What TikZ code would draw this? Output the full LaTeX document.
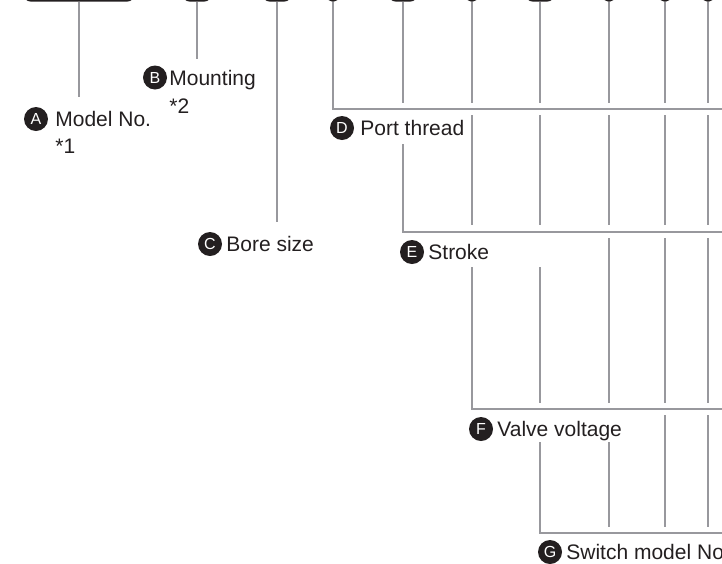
\documentclass[tikz,border=0pt]{standalone}
\usepackage{fontspec}
\setmainfont{Liberation Sans}
\usetikzlibrary{positioning}
\definecolor{leadgray}{RGB}{152,152,157}
\definecolor{inkdark}{RGB}{35,31,32}

\begin{document}
\begin{tikzpicture}[
  x=1pt,y=-1pt,
  lead/.style={draw=leadgray,line width=2.2pt},
  keybox/.style={draw=inkdark,line width=1.3pt,rounded corners=6pt,
    minimum height=24pt,minimum width=27pt,inner sep=0pt,anchor=south},
  keydot/.style={keybox,minimum width=10pt,rounded corners=4pt},
  badge/.style={circle,fill=inkdark,text=white,minimum size=24pt,
    inner sep=0pt,font=\fontsize{16}{16}\selectfont},
  caption/.style={inner sep=0pt,text height=15pt,text depth=0pt,
    text=inkdark,font=\fontsize{21}{25}\selectfont}
]
\useasboundingbox (0,0) rectangle (722,563);

% code boxes along the top edge
\node[keybox,minimum width=109pt] (boxA) at (79,1.5) {};
\node[keybox] (boxB) at (197,1.5) {};
\node[keybox] (boxC) at (277,1.5) {};
\node[keydot] (boxD) at (333,1.5) {};
\node[keybox] (boxE) at (403,1.5) {};
\node[keydot] (boxF) at (472,1.5) {};
\node[keybox] (boxG) at (540,1.5) {};
\node[keydot] (boxH) at (609,1.5) {};
\node[keydot] (boxI) at (665,1.5) {};
\node[keydot] (boxJ) at (708,1.5) {};

% labels
\node[badge] (tagA) at (36,119) {A};
\node[caption,right=7pt of tagA] (capA) {Model No.};
\node[caption,below=12pt of capA.south west,anchor=north west] (noteA) {*1};
\node[badge] (tagB) at (155,77.5) {B};
\node[caption,right=2pt of tagB] (capB) {Mounting};
\node[caption,below=13pt of capB.south west,anchor=north west] (noteB) {*2};
\node[badge] (tagC) at (210,244) {C};
\node[caption,right=4pt of tagC] (capC) {Bore size};
\node[badge] (tagD) at (342,128) {D};
\node[caption,right=6pt of tagD] (capD) {Port thread};
\node[badge] (tagE) at (412,252) {E};
\node[caption,right=4pt of tagE] (capE) {Stroke};
\node[badge] (tagF) at (481,429) {F};
\node[caption,right=4pt of tagF] (capF) {Valve voltage};
\node[badge] (tagG) at (550,552) {G};
\node[caption,right=4pt of tagG] (capG) {Switch model No.};

% rails running off the right edge
\coordinate (railD) at (730,109);
\coordinate (railE) at (730,232);
\coordinate (railF) at (730,409);
\coordinate (railG) at (730,533);

\draw[lead] (boxA.south) -- (boxA.south |- 0,97);
\draw[lead] (boxB.south) -- (boxB.south |- 0,59);
\draw[lead] (boxC.south) -- (boxC.south |- 0,222);
\draw[lead] (boxD.south) |- (railD);
\draw[lead] (boxE.south |- 0,144) |- (railE);
\draw[lead] (boxF.south |- 0,267) |- (railF);
\draw[lead] (boxG.south |- 0,442) |- (railG);

% leads broken where they cross a rail
\foreach \k in {E,F,G,H,I,J}
  \draw[lead] (box\k.south) -- (box\k.south |- 0,103);
\foreach \k in {F,G,H,I,J}
  \draw[lead] (box\k.south |- 0,115) -- (box\k.south |- 0,225);
\foreach \k in {H,I,J}
  \draw[lead] (box\k.south |- 0,238) -- (box\k.south |- 0,403);
\draw[lead] (boxG.south |- 0,267) -- (boxG.south |- 0,403);
\draw[lead] (boxH.south |- 0,442) -- (boxH.south |- 0,527);
\foreach \k in {I,J}
  \draw[lead] (box\k.south |- 0,415) -- (box\k.south |- 0,527);
\end{tikzpicture}
\end{document}
